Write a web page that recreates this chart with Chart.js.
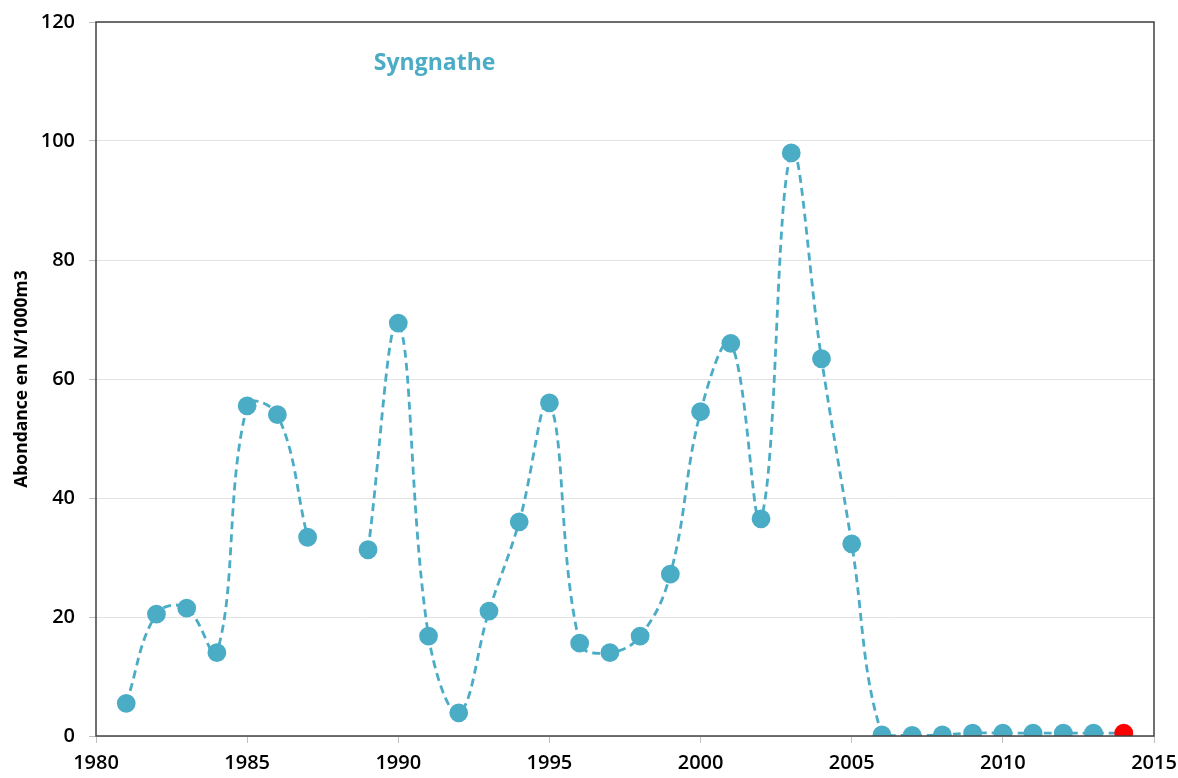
<!DOCTYPE html>
<html>
<head>
<meta charset="utf-8">
<script src="https://cdn.jsdelivr.net/npm/chart.js@4/dist/chart.umd.min.js"></script>
<style>
  html, body { margin: 0; padding: 0; background: #fff; }
  #wrap { width: 1178px; height: 778px; }
</style>
</head>
<body>
<div id="wrap"><canvas id="chart" width="1178" height="778"></canvas></div>
<script>
// Data (abundance in N/1000m3 per year)
const years = [1981, 1982, 1983, 1984, 1985, 1986, 1987, 1988, 1989, 1990,
  1991, 1992, 1993, 1994, 1995, 1996, 1997, 1998, 1999, 2000,
  2001, 2002, 2003, 2004, 2005, 2006, 2007, 2008, 2009, 2010,
  2011, 2012, 2013, 2014];
const abundance = [5.5, 20.5, 21.5, 14, 55.5, 54, 33.4, null, 31.3, 69.4,
  16.8, 3.9, 21, 36, 56, 15.6, 14, 16.8, 27.2, 54.5,
  66, 36.5, 98, 63.4, 32.3, 0.2, 0.1, 0.2, 0.5, 0.5,
  0.5, 0.5, 0.5, 0.5];
const highlightYear = 2014;
const seriesTitle = "Syngnathe";
const yAxisTitle = "Abondance en N/1000m3";

const teal = "#4BACC6";
const fontFamily = "'Open Sans', 'Liberation Sans', sans-serif";

const points = years.map((yr, i) => ({ x: yr, y: abundance[i] }));
const pointColors = years.map((yr) => (yr === highlightYear ? "#FF0000" : teal));

// Frame round the plot area plus the in-plot series title
const framePlugin = {
  id: "frame",
  afterDraw(chart) {
    const { ctx, chartArea: a, scales } = chart;
    ctx.save();
    ctx.strokeStyle = "#404040";
    ctx.lineWidth = 1.5;
    ctx.strokeRect(a.left, a.top, a.right - a.left, a.bottom - a.top);
    ctx.fillStyle = teal;
    ctx.font = "bold 23px " + fontFamily;
    ctx.textAlign = "center";
    ctx.textBaseline = "middle";
    ctx.fillText(seriesTitle, scales.x.getPixelForValue(1991.2), scales.y.getPixelForValue(113));
    ctx.restore();
  },
};

new Chart(document.getElementById("chart"), {
  type: "line",
  data: {
    datasets: [
      {
        label: seriesTitle,
        data: points,
        borderColor: teal,
        borderWidth: 2.8,
        borderDash: [8, 5],
        pointBackgroundColor: pointColors,
        pointBorderColor: pointColors,
        pointRadius: 8,
        pointHoverRadius: 8,
        tension: 0.4,
        spanGaps: false,
        fill: false,
      },
    ],
  },
  options: {
    responsive: false,
    animation: false,
    layout: { padding: { top: 22, right: 24, left: 0, bottom: 0 } },
    plugins: {
      legend: { display: false },
      tooltip: { enabled: false },
    },
    scales: {
      x: {
        type: "linear",
        min: 1980,
        max: 2015,
        ticks: {
          stepSize: 5,
          maxRotation: 0,
          color: "#000",
          font: { family: fontFamily, size: 20, weight: "600" },
          padding: 8,
          callback: (v) => String(v),
        },
        grid: { drawOnChartArea: false, drawTicks: true, tickLength: 7, tickColor: "#bfbfbf" },
        border: { display: false },
        afterFit: (s) => { s.height = 42; s.paddingLeft = 0; s.paddingRight = 0; },
      },
      y: {
        min: 0,
        max: 120,
        ticks: {
          stepSize: 20,
          color: "#000",
          font: { family: fontFamily, size: 20, weight: "600" },
          padding: 14,
        },
        title: {
          display: true,
          text: yAxisTitle,
          color: "#000",
          font: { family: fontFamily, size: 17.5, weight: "bold" },
          padding: { top: 12, bottom: 0 },
        },
        grid: { color: "#e3e3e3", lineWidth: 1, tickLength: 7, tickColor: "#bfbfbf" },
        border: { display: false },
        afterFit: (s) => { s.width = 96; s.paddingTop = 0; s.paddingBottom = 0; },
      },
    },
  },
  plugins: [framePlugin],
});
</script>
</body>
</html>
